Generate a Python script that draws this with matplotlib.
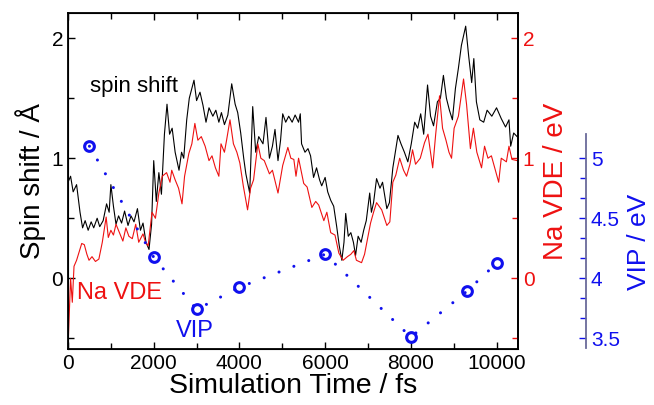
import matplotlib
matplotlib.use("Agg")
import matplotlib.pyplot as plt
from matplotlib.ticker import MultipleLocator

plt.rcParams["font.family"] = ["Liberation Sans", "DejaVu Sans"]

# spin shift trace (fs, Angstrom)
spin_t = [0, 60, 120, 200, 280, 340, 400, 470, 540, 600, 680, 740, 820, 900, 960,
          1000, 1060, 1120, 1180, 1250, 1320, 1400, 1470, 1540, 1620, 1690, 1750,
          1820, 1890, 1950, 2000, 2060, 2120, 2180, 2250, 2310, 2370, 2430, 2500,
          2590, 2650, 2700, 2770, 2830, 2940, 3000, 3080, 3150, 3220, 3290, 3380,
          3450, 3520, 3580, 3650, 3730, 3820, 3900, 3960, 4030, 4100, 4150, 4240,
          4310, 4380, 4450, 4550, 4620, 4700, 4770, 4830, 4900, 4960, 5010, 5080,
          5150, 5230, 5300, 5380, 5420, 5450, 5530, 5600, 5660, 5730, 5800, 5870,
          5920, 6000, 6060, 6130, 6200, 6270, 6330, 6390, 6440, 6480, 6540, 6600,
          6660, 6710, 6770, 6840, 6900, 6960, 7040, 7080, 7130, 7200, 7280, 7340,
          7440, 7500, 7580, 7700, 7770, 7850, 7930, 8010, 8090, 8160, 8230, 8300,
          8390, 8460, 8530, 8620, 8690, 8760, 8830, 8900, 8970, 9040, 9110, 9180,
          9280, 9350, 9420, 9470, 9530, 9610, 9700, 9780, 9890, 10000, 10110,
          10210, 10290, 10330, 10400, 10480]
spin = [0.80, 0.85, 0.72, 0.78, 0.55, 0.42, 0.48, 0.40, 0.47, 0.42, 0.50, 0.43, 0.48,
        0.62, 0.55, 0.78, 0.60, 0.45, 0.52, 0.46, 0.56, 0.44, 0.52, 0.47, 0.58, 0.40,
        0.46, 0.30, 0.24, 0.45, 0.98, 0.64, 0.88, 0.70, 1.20, 1.45, 1.20, 1.25, 1.05,
        0.90, 1.05, 1.00, 1.32, 1.50, 1.65, 1.48, 1.55, 1.44, 1.30, 1.42, 1.35, 1.40,
        1.30, 1.38, 1.28, 1.36, 1.62, 1.45, 1.38, 1.21, 1.00, 0.87, 0.71, 1.43, 1.05,
        1.18, 1.12, 1.34, 1.00, 1.10, 1.24, 0.98, 1.15, 1.37, 1.30, 1.35, 1.30, 1.36,
        1.30, 1.37, 1.12, 1.05, 1.08, 1.02, 0.84, 0.92, 0.82, 0.77, 0.84, 0.72, 0.65,
        0.60, 0.43, 0.27, 0.15, 0.30, 0.54, 0.35, 0.38, 0.30, 0.19, 0.35, 0.30, 0.40,
        0.48, 0.71, 0.55, 0.63, 0.83, 0.75, 0.80, 0.58, 0.63, 0.92, 1.19, 1.12, 1.05,
        0.97, 1.12, 1.30, 1.25, 1.37, 1.20, 1.61, 1.35, 1.27, 1.47, 1.50, 1.69, 1.50,
        1.40, 1.32, 1.58, 1.75, 1.94, 2.10, 1.85, 1.63, 1.83, 1.47, 1.32, 1.30, 1.40,
        1.35, 1.42, 1.33, 1.26, 1.32, 1.10, 1.21, 1.18]

# Na VDE trace (fs, eV)
vde_t = [0, 30, 60, 100, 140, 200, 260, 320, 380, 440, 490, 560, 640, 720, 800, 890,
         940, 1000, 1060, 1120, 1200, 1280, 1350, 1420, 1500, 1580, 1650, 1750, 1810,
         1870, 1960, 2040, 2120, 2200, 2300, 2380, 2420, 2500, 2580, 2660, 2720, 2820,
         2890, 2960, 3030, 3110, 3200, 3290, 3360, 3440, 3520, 3570, 3650, 3700, 3780,
         3860, 3940, 4010, 4090, 4190, 4260, 4330, 4430, 4500, 4580, 4700, 4770, 4900,
         5010, 5130, 5200, 5270, 5320, 5380, 5500, 5580, 5690, 5780, 5850, 5970, 6040,
         6130, 6230, 6320, 6420, 6520, 6600, 6670, 6730, 6850, 6920, 7060, 7130, 7200,
         7320, 7440, 7510, 7580, 7650, 7740, 7830, 7900, 7980, 8040, 8110, 8220, 8320,
         8400, 8510, 8580, 8670, 8740, 8820, 8890, 8950, 9010, 9110, 9230, 9300, 9390,
         9460, 9540, 9650, 9720, 9800, 9880, 10050, 10110, 10230, 10290, 10360, 10480]
vde = [-0.58, -0.30, 0.00, -0.20, 0.10, 0.15, 0.22, 0.29, 0.28, 0.20, 0.15, 0.18, 0.14,
       0.16, 0.30, 0.51, 0.34, 0.40, 0.36, 0.45, 0.38, 0.31, 0.42, 0.35, 0.33, 0.45,
       0.30, 0.37, 0.30, 0.27, 0.55, 0.50, 0.71, 0.85, 0.88, 0.80, 0.90, 0.82, 0.75,
       0.62, 0.85, 1.04, 1.12, 1.29, 1.15, 1.18, 1.10, 0.98, 1.02, 0.92, 0.85, 1.12,
       1.05, 1.15, 1.32, 1.12, 1.05, 0.96, 0.77, 0.57, 0.75, 0.82, 1.12, 1.00, 0.98,
       0.87, 0.90, 0.71, 0.94, 1.09, 1.00, 0.99, 0.85, 1.00, 0.79, 0.76, 0.59, 0.64,
       0.61, 0.48, 0.55, 0.38, 0.36, 0.21, 0.15, 0.18, 0.20, 0.23, 0.15, 0.13, 0.20,
       0.46, 0.55, 0.63, 0.57, 0.44, 0.47, 0.80, 0.86, 1.00, 0.90, 0.85, 0.95, 1.07,
       0.95, 1.00, 1.13, 1.20, 0.92, 1.20, 1.52, 1.25, 1.15, 1.05, 1.00, 1.25, 1.35,
       1.66, 1.45, 1.08, 1.25, 1.05, 0.92, 1.10, 1.00, 1.02, 0.80, 1.00, 0.97, 1.10,
       0.99, 0.98]

# VIP points (fs, eV)
vip_t = [500, 2000, 3000, 4000, 6000, 8000, 9300, 10000]
vip = [5.10, 4.175, 3.74, 3.925, 4.20, 3.51, 3.89, 4.125]

blue = "#1010ee"
red = "#ee1111"

fig = plt.figure(figsize=(6.54, 4.05), dpi=100)
ax = fig.add_axes([0.104, 0.138, 0.688, 0.830])

ax.plot(spin_t, spin, color="black", lw=0.8)
ax.plot(vde_t, vde, color=red, lw=0.8)

ax.set_xlim(0, 10500)
ax.set_ylim(-0.59, 2.21)
ax.xaxis.set_major_locator(MultipleLocator(2000))
ax.xaxis.set_minor_locator(MultipleLocator(1000))
ax.yaxis.set_major_locator(MultipleLocator(1))
ax.yaxis.set_minor_locator(MultipleLocator(0.5))
ax.tick_params(which="both", direction="in", top=True, labelsize=15, width=1)
ax.tick_params(which="major", length=5)
ax.tick_params(which="minor", length=4)
for s in ax.spines.values():
    s.set_linewidth(1.3)

ax.set_xlabel("Simulation Time / fs", fontsize=20.5, labelpad=0)
ax.set_ylabel("Spin shift / Å", fontsize=20, labelpad=4)

# Na VDE axis (same scale as spin shift)
ax2 = ax.twinx()
ax2.set_ylim(ax.get_ylim())
ax2.yaxis.set_major_locator(MultipleLocator(1))
ax2.yaxis.set_minor_locator(MultipleLocator(0.5))
ax2.tick_params(which="both", direction="in", colors=red, labelsize=15, width=1)
ax2.tick_params(which="major", length=5)
ax2.tick_params(which="minor", length=4)
ax2.spines["right"].set_color("black")
ax2.spines["right"].set_linewidth(1.3)
ax2.set_ylabel("Na VDE / eV", fontsize=20, color=red, labelpad=6)

# VIP axis, offset to the right
ax3 = ax.twinx()
ax3.spines["right"].set_position(("axes", 1.151))
ax3.set_ylim(ax.get_ylim()[0] + 4, ax.get_ylim()[1] + 4)
ax3.spines["right"].set_bounds(3.42, 5.2)
ax3.spines["right"].set_color("#6a6a9a")
ax3.spines["right"].set_linewidth(1.3)
for side in ["top", "bottom", "left"]:
    ax3.spines[side].set_visible(False)
ax3.set_yticks([3.5, 4, 4.5, 5])
ax3.set_yticklabels(["3.5", "4", "4.5", "5"])
ax3.set_yticks([3.5 + k / 6 for k in range(10)], minor=True)
ax3.tick_params(which="both", direction="in", colors=blue, labelsize=15, width=1)
ax3.tick_params(which="major", length=5)
ax3.tick_params(which="minor", length=4)
ax3.set_ylabel("VIP / eV", fontsize=19, color=blue)
ax3.yaxis.set_label_coords(1.268, 0.318)
ax3.yaxis.label.set_verticalalignment("center")

ax3.plot(vip_t, vip, color=blue, lw=2.2, linestyle=(0, (0.01, 5.2)),
         dash_capstyle="round")
ax3.plot(vip_t, vip, "o", color=blue, mfc="none", ms=7, mew=2.2)

ax.text(1540, 1.60, "spin shift", fontsize=16, color="black", ha="center", va="center")
ax.text(1210, -0.125, "Na VDE", fontsize=17, color=red, ha="center", va="center")
ax.text(2960, -0.44, "VIP", fontsize=17, color=blue, ha="center", va="center")

fig.savefig("out.png", dpi=100)
